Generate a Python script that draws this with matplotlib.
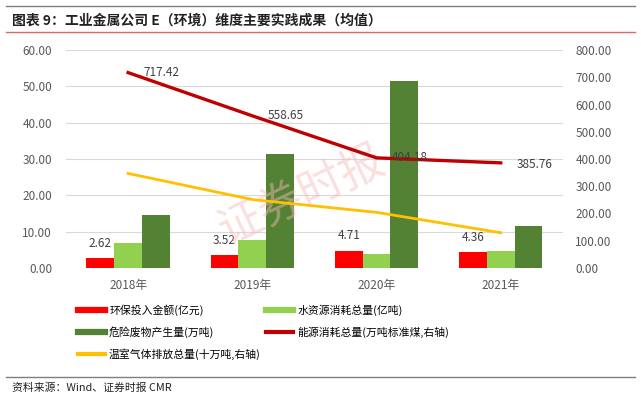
import numpy as np
import matplotlib.pyplot as plt
from matplotlib.lines import Line2D

plt.rcParams['font.family'] = ['Noto Sans CJK SC', 'DejaVu Sans']

years = ['2018年', '2019年', '2020年', '2021年']
invest = [2.62, 3.52, 4.71, 4.36]          # 环保投入金额(亿元)
water = [6.9, 7.7, 3.85, 4.65]             # 水资源消耗总量(亿吨)
waste = [14.5, 31.5, 51.4, 11.6]           # 危险废物产生量(万吨)
energy = [717.42, 558.65, 404.18, 385.76]  # 能源消耗总量(右轴)
ghg = [347, 251, 204, 129]                 # 温室气体排放总量(右轴)

names = ['环保投入金额(亿元)', '水资源消耗总量(亿吨)', '危险废物产生量(万吨)',
         '能源消耗总量(万吨标准煤,右轴)', '温室气体排放总量(十万吨,右轴)']
c_red, c_lg, c_dg, c_dr, c_yel = '#FF0000', '#92D050', '#548235', '#C00000', '#FFC000'

fig = plt.figure(figsize=(6.41, 3.98), dpi=100)

# header / footer
fig.add_artist(Line2D([0.01, 0.99], [0.985, 0.985], color='#7f7f7f', lw=1))
fig.add_artist(Line2D([0.01, 0.99], [0.920, 0.920], color='#E06666', lw=1))
fig.text(0.018, 0.948, '图表 9：工业金属公司 E（环境）维度主要实践成果（均值）',
         fontsize=10, fontweight='bold', va='center', color='#222222')
fig.add_artist(Line2D([0.01, 0.99], [0.053, 0.053], color='#7f7f7f', lw=1))
fig.text(0.018, 0.025, '资料来源：Wind、证券时报 CMR', fontsize=7.8, va='center', color='#222222')

ax = fig.add_axes([0.103, 0.327, 0.775, 0.547])
ax2 = ax.twinx()

x = np.arange(len(years))
w = 0.224
ax.bar(x - w, invest, w, color=c_red, zorder=3)
ax.bar(x, water, w, color=c_lg, zorder=3)
ax.bar(x + w, waste, w, color=c_dg, zorder=3)
for xi, v in zip(x, invest):
    ax.text(xi - w, v + 4.1, f'{v:.2f}', ha='center', va='center', fontsize=8.5, color='#404040', zorder=5)

ax.set_ylim(0, 60)
ax.set_yticks(np.arange(0, 61, 10))
ax.set_yticklabels([f'{v:.2f}' for v in np.arange(0, 61, 10)])
ax.set_xlim(-0.5, 3.5)
ax.set_xticks(x)
ax.set_xticklabels(years)
ax.grid(axis='y', color='#d9d9d9', lw=0.8, zorder=0)

# watermark
ax2.text(1.4, 265, '证券时报', fontsize=32, color='#F6B8B8', alpha=0.45, rotation=25,
         ha='center', va='center', fontstyle='italic', zorder=1)

ax2.plot(x, energy, color=c_dr, lw=2.4, zorder=4)
ax2.plot(x, ghg, color=c_yel, lw=2.0, zorder=4)
dys = [0, 0, 0, -6]
for xi, v, dy in zip(x, energy, dys):
    ax2.text(xi + 0.27, v + dy, f'{v:.2f}', ha='center', va='center', fontsize=8.5, color='#404040', zorder=6)
ax2.set_ylim(0, 800)
ax2.set_yticks(np.arange(0, 801, 100))
ax2.set_yticklabels([f'{v:.2f}' for v in np.arange(0, 801, 100)])

for a in (ax, ax2):
    for s in a.spines.values():
        s.set_visible(False)
    a.tick_params(length=0, labelsize=8.5, labelcolor='#595959')
ax.tick_params(axis='y', pad=10)
ax2.tick_params(axis='y', pad=9)
ax.tick_params(axis='x', pad=8)

# legend filled column-wise: col1 = invest, waste, ghg ; col2 = water, energy
order = [0, 2, 4, 1, 3]
cols = [c_red, c_lg, c_dg, c_dr, c_yel]
handles = [Line2D([], [], color=cols[i], lw=4.5 if i < 3 else 3) for i in order]
labels = [names[i] for i in order]
fig.legend(handles, labels, loc='upper left', bbox_to_anchor=(0.122, 0.235), ncol=2, frameon=False,
           fontsize=7.8, handlelength=2.5, handletextpad=0.35, columnspacing=0.5, labelspacing=0.95,
           borderaxespad=0, borderpad=0)

fig.savefig('out.png', dpi=100)
